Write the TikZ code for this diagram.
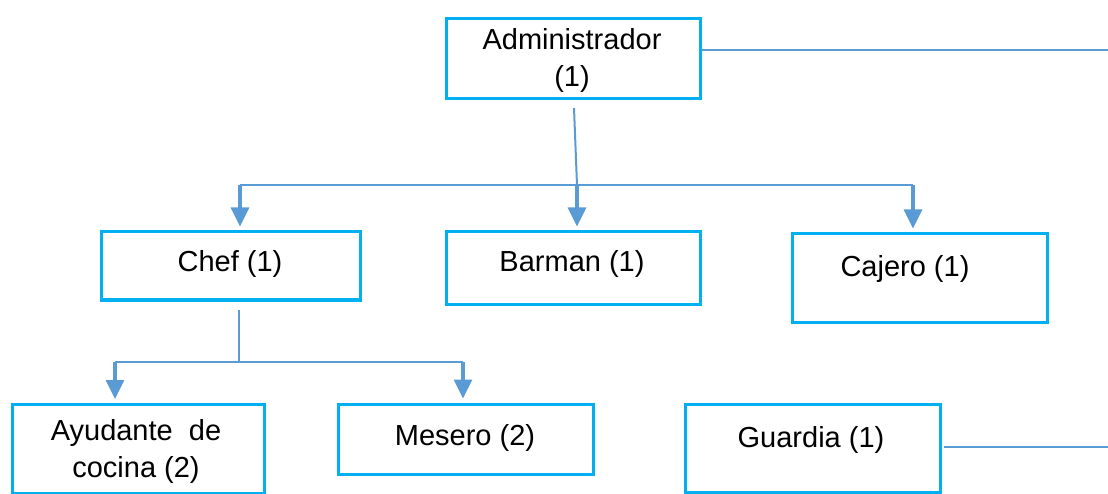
\documentclass[tikz,border=0pt]{standalone}
\usepackage{fontspec}
\setmainfont{Liberation Sans}
\usetikzlibrary{arrows.meta}

\definecolor{boxcol}{HTML}{00B0F0}
\definecolor{linecol}{HTML}{5B9BD5}

\tikzset{
  puesto/.style={draw=boxcol,line width=3pt,inner sep=0pt},
  rotulo/.style={font=\fontsize{29}{37}\selectfont,align=center,inner sep=0pt},
  enlace/.style={draw=linecol,line width=2pt},
  flecha/.style={draw=linecol,line width=3.3pt,shorten >=4pt,
    -{Triangle[length=19pt,width=18pt]}}
}

\begin{document}
\begin{tikzpicture}[x=1pt,y=-1pt]
\useasboundingbox (0,0) rectangle (1108,494);

% cajas del organigrama
\node[puesto,minimum width=254pt,minimum height=80pt] (admin) at (573,59) {};
\node[puesto,minimum width=259pt,minimum height=68pt] (chef) at (230.5,266) {};
\node[puesto,minimum width=254pt,minimum height=72pt] (barman) at (573,268) {};
\node[puesto,minimum width=255pt,minimum height=88pt] (cajero) at (919.5,278) {};
\node[puesto,minimum width=252pt,minimum height=89pt] (ayudante) at (138,449) {};
\node[puesto,minimum width=255pt,minimum height=70pt] (mesero) at (465.5,439) {};
\node[puesto,minimum width=255pt,minimum height=88pt] (guardia) at (812.5,448) {};

% textos
\node[rotulo] (adminT) at (572,60) {Administrador\\(1)};
\node[rotulo] (chefT) at (230,264) {Chef (1)};
\node[rotulo] (barmanT) at (572,264) {Barman (1)};
\node[rotulo] (cajeroT) at (905,269) {Cajero (1)};
\node[rotulo] (ayudanteT) at (136,451) {Ayudante~ de\\cocina (2)};
\node[rotulo] (meseroT) at (465,438) {Mesero (2)};
\node[rotulo] (guardiaT) at (811,440) {Guardia (1)};

% puntos de union
\coordinate (a1) at (574,108);
\coordinate (a2) at (577,185);
\coordinate (aL) at (240,185);
\coordinate (aR) at (913,185);
\coordinate (c1) at (239,310);
\coordinate (c2) at (239,362);
\coordinate (cL) at (115,362);
\coordinate (cR) at (463,362);
\coordinate (e1) at (1108,50);
\coordinate (e2) at (1108,447);

\draw[enlace] (admin.east |- e1) -- (e1);
\draw[enlace] (944,447) -- (e2);
\draw[enlace] (a1) -- (a2);
\draw[enlace] (aL) -- (aR);
\draw[flecha] (aL) -- (aL |- chef.north);
\draw[flecha] (a2) -- (a2 |- barman.north);
\draw[flecha] (aR) -- (aR |- cajero.north);

\draw[enlace] (c1) -- (c2);
\draw[enlace] (cL) -- (cR);
\draw[flecha] (cL) -- (cL |- ayudante.north);
\draw[flecha] (cR) -- (cR |- mesero.north);

\end{tikzpicture}
\end{document}
